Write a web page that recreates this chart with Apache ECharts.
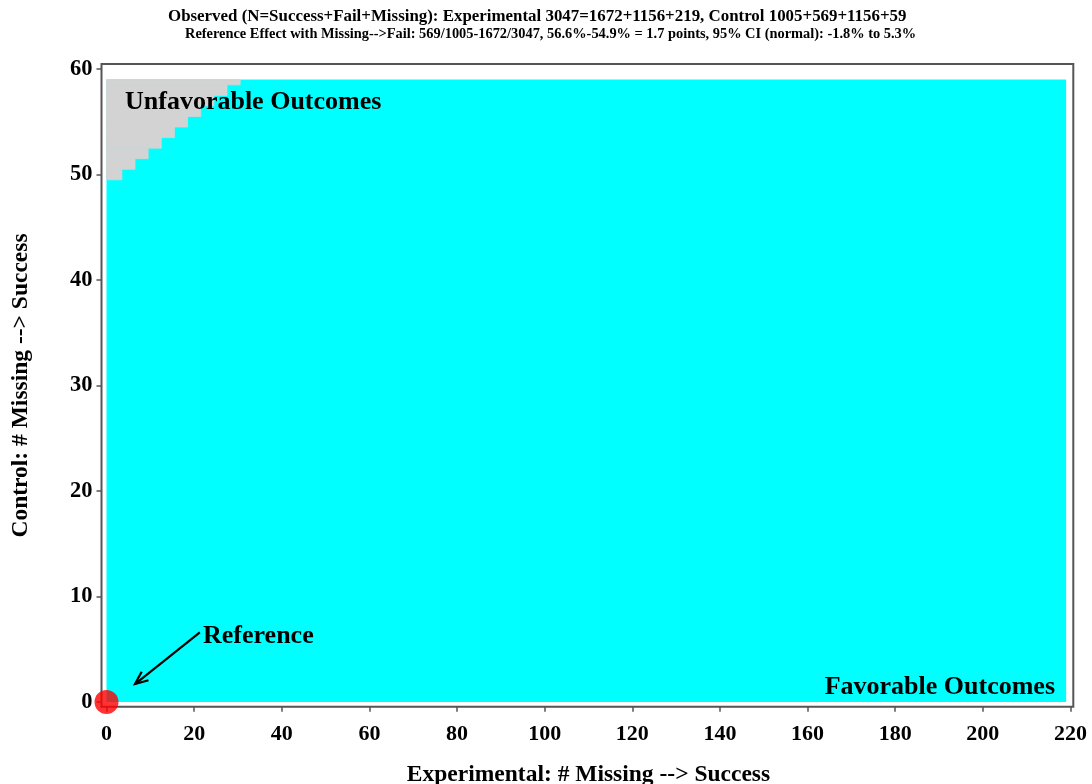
<!DOCTYPE html>
<html>
<head>
<meta charset="utf-8">
<script src="https://cdn.jsdelivr.net/npm/echarts@6/dist/echarts.min.js"></script>
<style>html,body{margin:0;padding:0;background:#fff;}#c{width:1092px;height:784px;}</style>
</head>
<body>
<div id="c"></div>
<script>
// ---- data ----
const titleLines = [
  'Observed (N=Success+Fail+Missing): Experimental 3047=1672+1156+219, Control 1005+569+1156+59',
  'Reference Effect with Missing-->Fail: 569/1005-1672/3047, 56.6%-54.9% = 1.7 points, 95% CI (normal): -1.8% to 5.3%'
];
const xTitle = 'Experimental: # Missing --> Success';
const yTitle = 'Control: # Missing --> Success';
const expMissing = 219;   // x range 0..219
const ctlMissing = 59;    // y range 0..59
const unfavRows = [50, 51, 52, 53, 54, 55, 56, 57, 58, 59];
const unfavMaxX = [3, 6, 9, 12, 15, 18, 21, 24, 27, 30];
const referencePoint = [0, 0];
const arrowFrom = [21.3, 6.6];
const arrowTo = [6.5, 1.7];

const FONT = '"Liberation Serif", "DejaVu Serif", serif';
const CYAN = '#00FFFF', GREY = '#D3D3D3', FRAME = '#555555';

// cells: favorable background + unfavorable rows
const cellData = [{ value: [0, expMissing, 0, ctlMissing], itemStyle: { color: CYAN } }];
unfavRows.forEach(function (r, i) {
  cellData.push({
    value: [0, unfavMaxX[i] + 0.5, Math.max(0, r - 0.5), Math.min(ctlMissing, r + 0.5)],
    itemStyle: { color: GREY }
  });
});

const chart = echarts.init(document.getElementById('c'), null, { renderer: 'canvas' });

const option = {
  animation: false,
  backgroundColor: '#fff',
  title: [
    { text: titleLines[0], left: 168, top: 8, padding: 0,
      textStyle: { fontFamily: FONT, fontWeight: 'bold', fontSize: 16.9, color: '#000' } },
    { text: titleLines[1], left: 185, top: 27.5, padding: 0,
      textStyle: { fontFamily: FONT, fontWeight: 'bold', fontSize: 14.4, color: '#000' } }
  ],
  grid: [
    { left: 101.5, right: 18.7, top: 64, bottom: 77.3, show: true, borderColor: FRAME, borderWidth: 2,
      backgroundColor: 'transparent', containLabel: false, outerBoundsMode: 'none' },
    { left: 106.5, right: 21.5, top: 69, bottom: 82, containLabel: false, outerBoundsMode: 'none' }
  ],
  xAxis: [
    { gridIndex: 0, type: 'value', show: false, min: 0, max: 1 },
    { gridIndex: 1, type: 'value', min: 0, max: 220, interval: 20, offset: 4.7,
      axisLine: { show: false, onZero: false },
      axisTick: { show: true, inside: false, length: 5, lineStyle: { color: FRAME, width: 1.5 } },
      splitLine: { show: false },
      axisLabel: { margin: 17, fontFamily: FONT, fontWeight: 'bold', fontSize: 22, color: '#000' },
      name: xTitle, nameLocation: 'middle', nameGap: 56,
      nameTextStyle: { fontFamily: FONT, fontWeight: 'bold', fontSize: 23.5, color: '#000' }
    }
  ],
  yAxis: [
    { gridIndex: 0, type: 'value', show: false, min: 0, max: 1 },
    { gridIndex: 1, type: 'value', min: 0, max: 60, interval: 10, offset: 5,
      axisLine: { show: false, onZero: false },
      axisTick: { show: true, inside: false, length: 5, lineStyle: { color: FRAME, width: 1.5 } },
      splitLine: { show: false },
      axisLabel: { margin: 9, fontFamily: FONT, fontWeight: 'bold', fontSize: 22.5, color: '#000' },
      name: yTitle, nameLocation: 'middle', nameGap: 69, nameRotate: 90,
      nameTextStyle: { fontFamily: FONT, fontWeight: 'bold', fontSize: 23.5, color: '#000' }
    }
  ],
  series: [
    {
      type: 'custom', xAxisIndex: 1, yAxisIndex: 1, clip: false, z: 1,
      data: cellData,
      renderItem: function (params, api) {
        const p0 = api.coord([api.value(0), api.value(2)]);
        const p1 = api.coord([api.value(1), api.value(3)]);
        const c = api.visual('color');
        return {
          type: 'rect',
          shape: { x: Math.min(p0[0], p1[0]), y: Math.min(p0[1], p1[1]),
                   width: Math.abs(p1[0] - p0[0]), height: Math.abs(p1[1] - p0[1]) },
          style: { fill: c, stroke: params.dataIndex > 0 ? c : null, lineWidth: 0.8 }
        };
      }
    },
    {
      type: 'custom', xAxisIndex: 1, yAxisIndex: 1, clip: false, z: 3,
      data: [[arrowFrom[0], arrowFrom[1], arrowTo[0], arrowTo[1]]],
      renderItem: function (params, api) {
        const a = api.coord([api.value(0), api.value(1)]);
        const b = api.coord([api.value(2), api.value(3)]);
        const ang = Math.atan2(a[1] - b[1], a[0] - b[0]);
        const L = 14, w = 0.4;
        const h1 = [b[0] + L * Math.cos(ang + w), b[1] + L * Math.sin(ang + w)];
        const h2 = [b[0] + L * Math.cos(ang - w), b[1] + L * Math.sin(ang - w)];
        return {
          type: 'group',
          children: [
            { type: 'line', shape: { x1: a[0], y1: a[1], x2: b[0], y2: b[1] }, style: { stroke: '#000', lineWidth: 2.2 } },
            { type: 'polyline', shape: { points: [h1, b, h2] }, style: { stroke: '#000', lineWidth: 2.2, fill: null } }
          ]
        };
      }
    },
    {
      type: 'scatter', xAxisIndex: 1, yAxisIndex: 1, clip: false, z: 4,
      symbol: 'circle', symbolSize: 24,
      itemStyle: { color: '#FF0000' },
      data: [referencePoint]
    }
  ],
  graphic: [
    { type: 'text', left: 125, top: 89, z: 10,
      style: { text: 'Unfavorable Outcomes', font: 'bold 26px ' + FONT, fill: '#000' } },
    { type: 'text', right: 37, top: 674, z: 10,
      style: { text: 'Favorable Outcomes', font: 'bold 26px ' + FONT, fill: '#000' } },
    { type: 'text', left: 203, top: 623, z: 10,
      style: { text: 'Reference', font: 'bold 26px ' + FONT, fill: '#000' } }
  ]
};
chart.setOption(option);
</script>
</body>
</html>
